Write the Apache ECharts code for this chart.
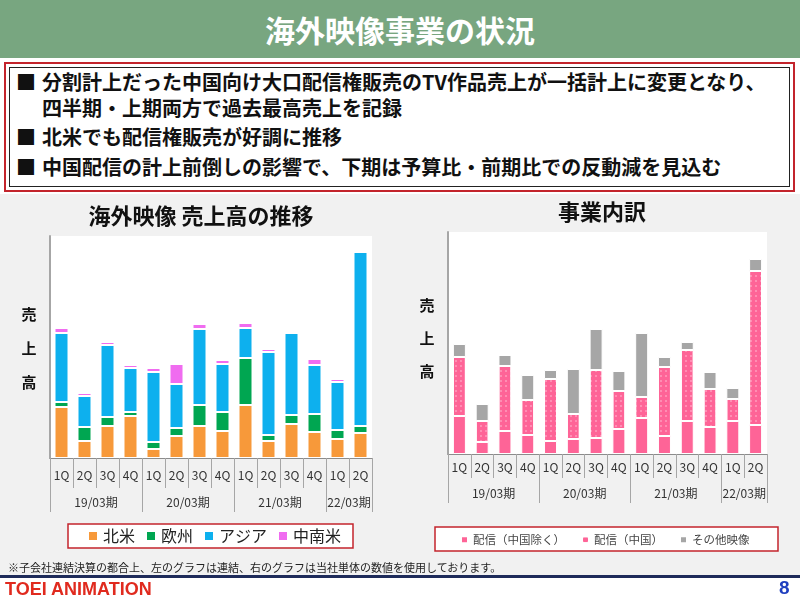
<!DOCTYPE html>
<html>
<head>
<meta charset="utf-8">
<script src="https://cdn.jsdelivr.net/npm/echarts@6/dist/echarts.min.js"></script>
<style>
  html, body { margin:0; padding:0; width:800px; height:600px; overflow:hidden; background:#ffffff; font-family:"Noto Sans CJK JP","Noto Sans",sans-serif; }
  .abs { position:absolute; }
  #titlebar { left:0; top:0; width:800px; height:58px; background:#78a680; color:#fff; font-weight:bold; font-size:30px; line-height:58px; text-align:center; }
  #redbox { left:4px; top:62px; width:787px; height:126px; border:2px solid #c3242c; }
  #innerbox { left:9px; top:67px; width:779px; height:118px; border:1px solid #222; }
  .bl { font-weight:bold; font-size:20px; color:#111; white-space:nowrap; line-height:24px; }
  #graybg { left:0; top:194px; width:800px; height:382px; background:#f1f1f1; }
  #navy { left:0; top:575px; width:800px; height:3px; background:#1e2b5a; }
  #foot { left:8px; top:560px; font-size:11px; color:#222; white-space:nowrap; line-height:14px; }
  #toei { left:5px; top:578px; font-size:18px; font-weight:bold; color:#e02a1e; line-height:22px; font-family:"Liberation Sans","DejaVu Sans",sans-serif; }
  #pg { left:779px; top:577px; font-size:19px; font-weight:bold; color:#1f3fbf; line-height:22px; font-family:"Liberation Sans",sans-serif; }
  #chart { left:0; top:0; width:800px; height:600px; }
</style>
</head>
<body>
<div id="graybg" class="abs"></div>
<div id="titlebar" class="abs">海外映像事業の状況</div>
<div id="redbox" class="abs"></div>
<div id="innerbox" class="abs"></div>
<div class="abs bl" style="left:16px;top:70px;">■</div>
<div class="abs bl" style="left:42px;top:70px;">分割計上だった中国向け大口配信権販売のTV作品売上が一括計上に変更となり、</div>
<div class="abs bl" style="left:42px;top:96px;">四半期・上期両方で過去最高売上を記録</div>
<div class="abs bl" style="left:16px;top:125px;">■</div>
<div class="abs bl" style="left:42px;top:125px;">北米でも配信権販売が好調に推移</div>
<div class="abs bl" style="left:16px;top:155px;">■</div>
<div class="abs bl" style="left:42px;top:155px;">中国配信の計上前倒しの影響で、下期は予算比・前期比での反動減を見込む</div>
<div id="chart" class="abs"></div>
<div id="foot" class="abs">※子会社連結決算の都合上、左のグラフは連結、右のグラフは当社単体の数値を使用しております。</div>
<div id="navy" class="abs"></div>
<div id="toei" class="abs">TOEI ANIMATION</div>
<div id="pg" class="abs">8</div>
<script>
// ---- data (arbitrary units) ----
const quarters = ['1Q','2Q','3Q','4Q','1Q','2Q','3Q','4Q','1Q','2Q','3Q','4Q','1Q','2Q'];
const periods = ['19/03期','20/03期','21/03期','22/03期'];
const periodBounds = [0, 4, 8, 12, 14];
const periodCenters = [2, 6, 10, 13];

// Left chart: 海外映像 売上高の推移
const regionNames = ['北米','欧州','アジア','中南米'];
const northAmerica = [51,17,32,42, 9,22,32,27, 53,17,34,26, 19,25];
const europe       = [ 5,14, 9, 4, 7, 8,21,19, 47, 6, 9,18,  9, 7];
const asia         = [69,31,72,44,70,44,76,48, 30,83,82,49, 48,174];
const latinAmerica = [ 5, 3, 3, 3, 4,20, 5, 4,  5, 3, 2, 6,  3, 2];

// Right chart: 事業内訳
const bizNames = ['配信（中国除く）','配信（中国）','その他映像'];
const streamingExChina = [38,12,23,19,13,15,16,25,36,18,33,27,33,29];
const streamingChina   = [59,21,65,35,62,25,68,38,21,69,71,38,22,154];
const otherVideo       = [13,17,11,25, 9,45,41,20,64,10, 8,17,11,12];

const leftColors = ['#f7993a','#00a651','#0db0ee','#f06cf0'];
const pink = '#fe6497';
const gray = '#a6a6a6';
const FONT = '"Noto Sans CJK JP", "Noto Sans", sans-serif';

const chart = echarts.init(document.getElementById('chart'), null, {renderer:'canvas'});

function catAxis(grid, tickLen, margin) {
  return {
    type:'category', gridIndex:grid, data:quarters, position:'bottom',
    axisLine:{show:true, lineStyle:{color:'#8c8c8c', width:1}},
    axisTick:{show:true, interval:0, length:tickLen, lineStyle:{color:'#a6a6a6', width:1}},
    axisLabel:{interval:0, margin:margin, fontSize:12, color:'#333', fontFamily:FONT},
    splitLine:{show:false}
  };
}
function periodAxis(grid, tickLen, margin) {
  return {
    type:'value', gridIndex:grid, min:0, max:14, position:'bottom',
    axisLine:{show:false},
    splitLine:{show:false},
    axisTick:{show:true, customValues:periodBounds, length:tickLen, lineStyle:{color:'#a6a6a6', width:1}},
    axisLabel:{show:true, customValues:periodCenters, margin:margin, fontSize:12, color:'#333', fontFamily:FONT,
      formatter:function(v){ return periods[periodCenters.indexOf(v)]; }}
  };
}
function valAxis(grid) {
  return {
    type:'value', gridIndex:grid, min:0, max:222,
    axisLine:{show:true, lineStyle:{color:'#a6a6a6', width:2}},
    axisTick:{show:false}, axisLabel:{show:false}, splitLine:{show:false}
  };
}

const leftSeries = [northAmerica, europe, asia, latinAmerica].map((d,i)=>({
  name:regionNames[i], type:'bar', stack:'L', xAxisIndex:0, yAxisIndex:0, barWidth:14,
  data:d, itemStyle:{color:leftColors[i], borderColor:'#fff', borderWidth:1}, emphasis:{disabled:true}
}));
const dotDecal = {symbol:'circle', symbolSize:0.7, color:'rgba(255,255,255,0.75)', dashArrayX:[[2,2.5]], dashArrayY:[2,2.5], rotation:0};
const rightSeries = [
  {name:bizNames[0], data:streamingExChina, itemStyle:{color:pink, borderColor:'#fff', borderWidth:1}},
  {name:bizNames[1], data:streamingChina, itemStyle:{color:pink, borderColor:'#fff', borderWidth:1, decal:dotDecal}},
  {name:bizNames[2], data:otherVideo, itemStyle:{color:gray, borderColor:'#fff', borderWidth:1}}
].map(s=>Object.assign({type:'bar', stack:'R', xAxisIndex:2, yAxisIndex:1, barWidth:13, emphasis:{disabled:true}}, s));

const option = {
  animation:false,
  backgroundColor:'transparent',
  textStyle:{fontFamily:FONT},
  grid:[
    {left:50, top:236, width:322, height:222, show:true, backgroundColor:'#ffffff', borderWidth:0, outerBoundsMode:'none'},
    {left:448, top:232, width:319, height:222, show:true, backgroundColor:'#ffffff', borderWidth:0, outerBoundsMode:'none'}
  ],
  xAxis:[catAxis(0,30,11), periodAxis(0,54,38), catAxis(1,24,7), periodAxis(1,49,33)],
  yAxis:[valAxis(0), valAxis(1)],
  legend:[
    {data:regionNames, left:87, top:528, orient:'horizontal', itemWidth:10, itemHeight:10, itemGap:10,
     icon:'rect', textStyle:{fontSize:16, color:'#222', fontFamily:FONT}, padding:0, selectedMode:false},
    {data:bizNames, left:460, top:534, orient:'horizontal', itemWidth:7, itemHeight:7, itemGap:16,
     icon:'rect', textStyle:{fontSize:11.5, color:'#444', fontFamily:FONT}, padding:0, selectedMode:false}
  ],
  graphic:[
    {type:'rect', shape:{x:68, y:524, width:285, height:24}, style:{fill:'#ffffff', stroke:'#c3242c', lineWidth:1.5}, z:-1},
    {type:'rect', shape:{x:435, y:527, width:343, height:24}, style:{fill:'#ffffff', stroke:'#c3242c', lineWidth:1.5}, z:-1},
    {type:'text', x:201, y:216, style:{text:'海外映像 売上高の推移', font:'bold 22px '+FONT, fill:'#111', align:'center', verticalAlign:'middle'}},
    {type:'text', x:602, y:212, style:{text:'事業内訳', font:'bold 22px '+FONT, fill:'#111', align:'center', verticalAlign:'middle'}},
    {type:'text', x:29, y:348, style:{text:'売\n上\n高', font:'bold 15px '+FONT, lineHeight:34, fill:'#111', align:'center', verticalAlign:'middle'}},
    {type:'text', x:427, y:338, style:{text:'売\n上\n高', font:'bold 15px '+FONT, lineHeight:33, fill:'#111', align:'center', verticalAlign:'middle'}}
  ],
  series:[...leftSeries, ...rightSeries]
};
chart.setOption(option);
</script>
</body>
</html>
